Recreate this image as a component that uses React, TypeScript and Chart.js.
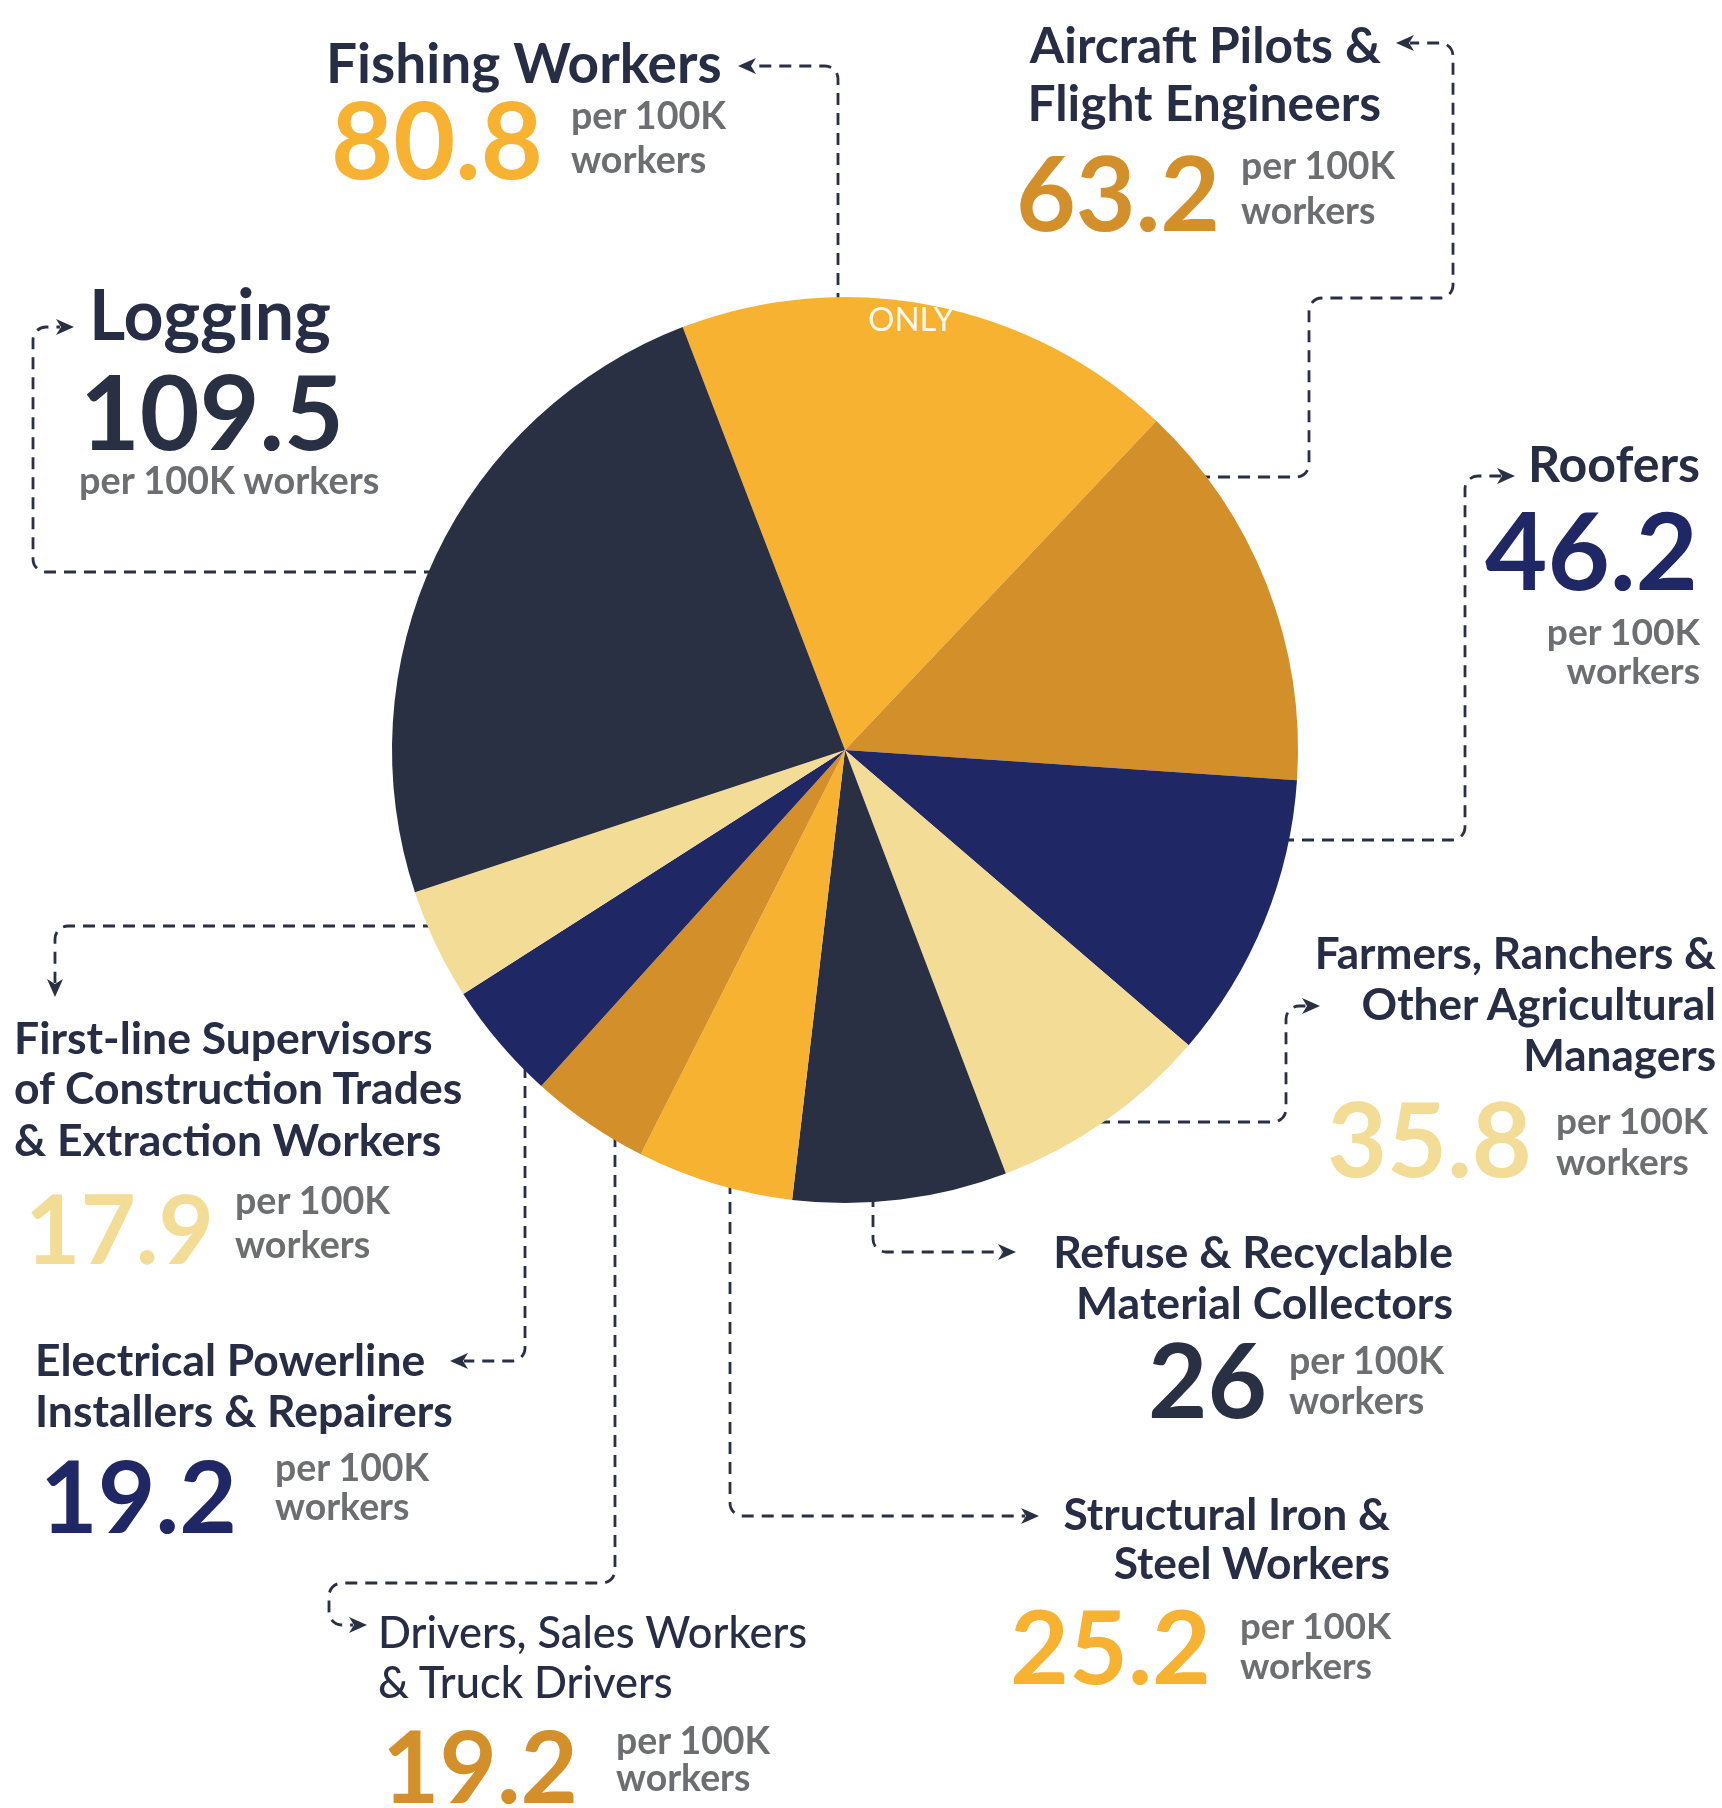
import React, { useEffect, useMemo, useRef } from "react";
import { Chart, registerables } from "chart.js";

Chart.register(...registerables);

// ---------------- DATA ----------------
const categories: string[] = [
  "Fishing Workers",
  "Aircraft Pilots &\nFlight Engineers",
  "Roofers",
  "Farmers, Ranchers &\nOther Agricultural\nManagers",
  "Refuse & Recyclable\nMaterial Collectors",
  "Structural Iron &\nSteel Workers",
  "Drivers, Sales Workers\n& Truck Drivers",
  "Electrical Powerline\nInstallers & Repairers",
  "First-line Supervisors\nof Construction Trades\n& Extraction Workers",
  "Logging",
];

// fatal injury rate printed in each label (per 100K workers)
const rates: number[] = [80.8, 63.2, 46.2, 35.8, 26, 25.2, 19.2, 19.2, 17.9, 109.5];

// slice sizes as drawn in the reference pie (the Refuse slice is drawn wider than its "26" label)
const sliceValues: number[] = [80.8, 63.2, 46.2, 35.8, 34.5, 25.2, 19.2, 19.2, 17.9, 109.5];

const unitLines: string[] = ["per 100K", "workers"];

const sliceColors: string[] = [
  "#F7B232", "#D38F2A", "#1F2765", "#F3DC96", "#2A3044",
  "#F7B232", "#D38F2A", "#1F2765", "#F3DC96", "#2A3044",
];

// ---------------- LAYOUT ----------------
const W = 1722;
const H = 1808;
const FONT = "Lato, 'Open Sans', 'DejaVu Sans', sans-serif";
const TITLE_COLOR = "#272D44";
const UNIT_COLOR = "#6D6E71";
const LINE_COLOR = "#2A3044";

type Align = "left" | "right";
type Block = {
  align: Align;
  titleWeight: number;
  title: { x: number; ys: number[]; ws: number[] };
  num: { x: number; y: number; w: number; align: Align };
  unit: { x: number; ys: number[]; w: number; align: Align; single?: boolean };
};

const BLOCKS: Block[] = [
  { // Fishing
    align: "left", titleWeight: 700,
    title: { x: 326, ys: [83], ws: [396] },
    num: { x: 331, y: 179, w: 212, align: "left" },
    unit: { x: 571, ys: [129, 173], w: 156, align: "left" },
  },
  { // Aircraft
    align: "right", titleWeight: 700,
    title: { x: 1381, ys: [63, 121], ws: [347, 358] },
    num: { x: 1016, y: 231, w: 204, align: "left" },
    unit: { x: 1241, ys: [179, 224], w: 155, align: "left" },
  },
  { // Roofers
    align: "right", titleWeight: 700,
    title: { x: 1700, ys: [482], ws: [172] },
    num: { x: 1698, y: 590, w: 213, align: "right" },
    unit: { x: 1700, ys: [645, 684], w: 154, align: "right" },
  },
  { // Farmers
    align: "right", titleWeight: 700,
    title: { x: 1716, ys: [969, 1020, 1071], ws: [404, 362, 189] },
    num: { x: 1327, y: 1177, w: 205, align: "left" },
    unit: { x: 1556, ys: [1134, 1175], w: 153, align: "left" },
  },
  { // Refuse
    align: "right", titleWeight: 700,
    title: { x: 1453, ys: [1268, 1319], ws: [400, 377] },
    num: { x: 1148, y: 1418, w: 119, align: "left" },
    unit: { x: 1289, ys: [1374, 1414], w: 156, align: "left" },
  },
  { // Structural
    align: "right", titleWeight: 700,
    title: { x: 1390, ys: [1530, 1579], ws: [331, 273] },
    num: { x: 1010, y: 1684, w: 201, align: "left" },
    unit: { x: 1240, ys: [1639, 1679], w: 152, align: "left" },
  },
  { // Drivers
    align: "left", titleWeight: 500,
    title: { x: 378, ys: [1648, 1698], ws: [431, 295] },
    num: { x: 382, y: 1803, w: 196, align: "left" },
    unit: { x: 616, ys: [1754, 1791], w: 155, align: "left" },
  },
  { // Electrical
    align: "left", titleWeight: 700,
    title: { x: 35, ys: [1376, 1427], ws: [393, 415] },
    num: { x: 40, y: 1533, w: 197, align: "left" },
    unit: { x: 275, ys: [1481, 1520], w: 155, align: "left" },
  },
  { // First-line
    align: "left", titleWeight: 700,
    title: { x: 14, ys: [1054, 1104, 1156], ws: [419, 457, 421] },
    num: { x: 25, y: 1264, w: 189, align: "left" },
    unit: { x: 235, ys: [1214, 1258], w: 156, align: "left" },
  },
  { // Logging
    align: "left", titleWeight: 700,
    title: { x: 89, ys: [340], ws: [242] },
    num: { x: 80, y: 450, w: 264, align: "left" },
    unit: { x: 79, ys: [494], w: 302, align: "left", single: true },
  },
];

// leader lines: from the pie rim to the label, arrow at the end
const LEADERS: number[][][] = [
  [[838, 305], [838, 66], [738, 66]],
  [[1198, 477], [1309, 477], [1309, 298], [1453, 298], [1453, 43], [1396, 43]],
  [[1282, 840], [1465, 840], [1465, 476], [1515, 476]],
  [[1098, 1122], [1286, 1122], [1286, 1006], [1320, 1006]],
  [[873, 1195], [873, 1252], [1016, 1252]],
  [[730, 1182], [730, 1516], [1039, 1516]],
  [[615, 1135], [615, 1583], [329, 1583], [329, 1625], [367, 1625]],
  [[525, 1066], [525, 1361], [450, 1361]],
  [[435, 926], [55, 926], [55, 997]],
  [[436, 572], [33, 572], [33, 327], [74, 327]],
];

const leaderPlugin = {
  id: "leaders",
  beforeDatasetsDraw(chart: any) {
    const ctx: CanvasRenderingContext2D = chart.ctx;
    ctx.save();
    ctx.strokeStyle = LINE_COLOR;
    ctx.fillStyle = LINE_COLOR;
    ctx.lineWidth = 2.8;
    for (const pts of LEADERS) {
      const n = pts.length;
      const tip = pts[n - 1];
      const prev = pts[n - 2];
      let dx = tip[0] - prev[0];
      let dy = tip[1] - prev[1];
      const len = Math.hypot(dx, dy);
      dx /= len; dy /= len;
      const L = 18, HW = 8, notch = 5;
      const end = [tip[0] - dx * (L - notch + 1), tip[1] - dy * (L - notch + 1)];
      ctx.setLineDash([12, 8]);
      ctx.beginPath();
      ctx.moveTo(pts[0][0], pts[0][1]);
      for (let i = 1; i < n - 1; i++) {
        ctx.arcTo(pts[i][0], pts[i][1], pts[i + 1][0], pts[i + 1][1], 13);
      }
      ctx.lineTo(end[0], end[1]);
      ctx.stroke();
      ctx.setLineDash([]);
      const px = -dy, py = dx;
      ctx.beginPath();
      ctx.moveTo(tip[0], tip[1]);
      ctx.lineTo(tip[0] - dx * L + px * HW, tip[1] - dy * L + py * HW);
      ctx.lineTo(tip[0] - dx * (L - notch), tip[1] - dy * (L - notch));
      ctx.lineTo(tip[0] - dx * L - px * HW, tip[1] - dy * L - py * HW);
      ctx.closePath();
      ctx.fill();
    }
    ctx.restore();
  },
};

// ---------------- TEXT HELPERS ----------------
type Measurer = CanvasRenderingContext2D;

function fitSize(ctx: Measurer, text: string, weight: number, target: number) {
  ctx.font = `${weight} 100px ${FONT}`;
  const w = ctx.measureText(text).width || 1;
  return (100 * target) / w;
}

type LineProps = {
  ctx: Measurer; text: string; x: number; y: number; size: number;
  weight: number; color: string; align: Align;
};

function TextLine({ ctx, text, x, y, size, weight, color, align }: LineProps) {
  ctx.font = `${weight} ${size}px ${FONT}`;
  const m = ctx.measureText(text);
  const asc = m.fontBoundingBoxAscent || size * 0.987;
  const desc = m.fontBoundingBoxDescent || size * 0.213;
  const style: React.CSSProperties = {
    position: "absolute",
    top: y - asc,
    height: asc + desc,
    lineHeight: `${asc + desc}px`,
    fontSize: size,
    fontWeight: weight,
    fontFamily: FONT,
    color,
    whiteSpace: "nowrap",
    margin: 0,
    padding: 0,
  };
  if (align === "right") style.right = W - x;
  else style.left = x;
  return <div style={style}>{text}</div>;
}

export default function App() {
  const canvasRef = useRef<HTMLCanvasElement | null>(null);
  const ctx = useMemo(() => document.createElement("canvas").getContext("2d") as Measurer, []);

  useEffect(() => {
    if (!canvasRef.current) return;
    const chart = new Chart(canvasRef.current, {
      type: "pie",
      data: {
        labels: categories.map((c) => c.replace(/\n/g, " ")),
        datasets: [
          {
            data: sliceValues,
            backgroundColor: sliceColors,
            borderWidth: 0,
            hoverOffset: 0,
          },
        ],
      },
      options: {
        responsive: false,
        animation: false,
        rotation: -21,
        events: [],
        layout: { padding: { left: 392, top: 297, right: W - 1298, bottom: H - 1203 } },
        plugins: { legend: { display: false }, tooltip: { enabled: false } },
      },
      plugins: [leaderPlugin],
    });
    return () => chart.destroy();
  }, []);

  const texts: React.ReactNode[] = [];
  BLOCKS.forEach((b, i) => {
    const lines = categories[i].split("\n");
    const sizes = lines.map((t, k) => fitSize(ctx, t, b.titleWeight, b.title.ws[k]));
    const ts = sizes.reduce((a, c) => a + c, 0) / sizes.length;
    lines.forEach((t, k) => {
      texts.push(
        <TextLine key={`t${i}-${k}`} ctx={ctx} text={t} x={b.title.x} y={b.title.ys[k]}
          size={ts} weight={b.titleWeight} color={TITLE_COLOR} align={b.align} />
      );
    });
    const numText = String(rates[i]);
    const ns = fitSize(ctx, numText, 700, b.num.w);
    texts.push(
      <TextLine key={`n${i}`} ctx={ctx} text={numText} x={b.num.x} y={b.num.y}
        size={ns} weight={700} color={sliceColors[i]} align={b.num.align} />
    );
    const ul = b.unit.single ? [unitLines.join(" ")] : unitLines;
    const us = fitSize(ctx, ul[0], 700, b.unit.w);
    ul.forEach((t, k) => {
      texts.push(
        <TextLine key={`u${i}-${k}`} ctx={ctx} text={t} x={b.unit.x} y={b.unit.ys[k]}
          size={us} weight={700} color={UNIT_COLOR} align={b.unit.align} />
      );
    });
  });

  const onlySize = fitSize(ctx, "ONLY", 400, 86);

  return (
    <div style={{ position: "absolute", left: 0, top: 0, width: W, height: H, background: "#ffffff", overflow: "hidden" }}>
      <canvas ref={canvasRef} width={W} height={H} style={{ position: "absolute", left: 0, top: 0, width: W, height: H, display: "block" }} />
      {texts}
      <TextLine ctx={ctx} text="ONLY" x={868} y={331} size={onlySize} weight={400}
        color="rgba(255,255,255,0.92)" align="left" />
    </div>
  );
}
